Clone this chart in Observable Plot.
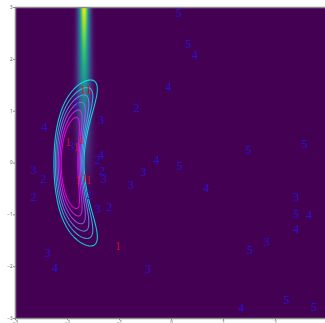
<!DOCTYPE html>
<html>
<head>
<meta charset="utf-8">
<script src="https://cdn.jsdelivr.net/npm/d3@7"></script>
<script src="https://cdn.jsdelivr.net/npm/@observablehq/plot@0.6"></script>
<style>
  html, body { margin: 0; padding: 0; background: #fff; }
  #chart svg { display: block; }
</style>
</head>
<body>
<div id="chart"></div>
<script>
// Axis ticks
const xTicks = [-3, -2, -1, 0, 1, 2, 3];
const yTicks = [-3, -2, -1, 0, 1, 2, 3];

// Digit labels placed in the plane
const digitX = [-1.70, -1.59, -1.99, -1.73, -1.83, -1.80, -1.67, -1.59, -1.03,
  -1.83, -2.44, -1.35, -1.93, -1.35, -1.42, -2.65, -2.46, -1.33, -1.30, -2.65, -1.58,
  -1.42, -1.19, -2.38, -2.24, 0.14, 0.32, 0.45, -0.06, -0.67, -0.29, 0.16, -0.54,
  -0.78, 0.67, -0.45, 1.48, 2.56, 2.40, 2.40, 2.65, 2.40, 1.83, 1.51, 2.21, 1.34, 2.74];
const digitY = [1.41, 1.41, 0.41, 0.45, 0.30, -0.33, -0.29, -0.33, -1.60,
  1.14, 0.70, 0.83, 0.33, 0.16, 0.06, -0.13, -0.32, -0.15, -0.32, -0.65, -0.63,
  -0.90, -0.86, -1.74, -2.03, 2.89, 2.29, 2.09, 1.46, 1.06, 0.06, -0.06, -0.18,
  -0.42, -0.48, -2.04, 0.25, 0.36, -0.65, -0.99, -1.01, -1.28, -1.52, -1.68, -2.65, -2.81, -2.78];
const digitText = ["1", "1", "1", "1", "1", "1", "1", "1", "1",
  "2", "4", "3", "3", "4", "2", "3", "2", "2", "3", "2", "2",
  "3", "2", "3", "4", "5", "5", "4", "4", "2", "4", "5", "3",
  "3", "4", "3", "5", "5", "3", "5", "4", "4", "3", "5", "5", "4", "5"];

// Funnel-shaped background density: a thin column that brightens toward the top
const funnel = {center: -1.68, top: 3, decay: 0.4, cutoff: 0.012, width: 0.068, spread: 0.12};
function funnelDensity(x, y) {
  const d = funnel.top - y;
  const peak = Math.exp(-funnel.decay * d - funnel.cutoff * d ** 4);
  const s = funnel.width * Math.exp(funnel.spread * d);
  const u = (x - funnel.center) / s;
  return peak * Math.exp(-0.5 * u * u);
}

// Bent (banana-shaped) density drawn as contour lines
const banana = {center: -1.95, bend: 0.155, widen: 0.35, sxLeft: 0.145, sxRight: 0.125, sy: 0.746};
const bananaLevels = [0.100, 0.149, 0.212, 0.291, 0.391, 0.498];
function bananaDensity(x, y) {
  const w = 1 + banana.widen * y * y;
  let u = (x - banana.center - banana.bend * y * y) / w;
  u = u < 0 ? u / banana.sxLeft : u / banana.sxRight;
  const v = y / banana.sy;
  return Math.exp(-0.5 * (u * u + v * v));
}

const cool = d3.interpolateRgb("#00ffff", "#ff00ff");
const extent = {x1: -3, x2: 3, y1: -3, y2: 3};
const idx = d3.range(digitText.length);
const fmt = d => (d < 0 ? "\u2212" + (-d) : String(d));

const contours = bananaLevels.map((t, i) => Plot.contour({
  ...extent,
  value: bananaDensity,
  thresholds: [t],
  fill: "none",
  stroke: cool(i / (bananaLevels.length - 1)),
  strokeOpacity: 0.8,
  strokeWidth: 1.1,
  pixelSize: 1
}));

const chart = Plot.plot({
  width: 325,
  height: 323,
  marginLeft: 15,
  marginRight: -2,
  marginTop: 7,
  marginBottom: 5,
  style: {background: "#fff"},
  x: {domain: [-3, 3], axis: null},
  y: {domain: [-3, 3], axis: null},
  color: {type: "linear", scheme: "viridis", domain: [0, 1]},
  marks: [
    Plot.raster({...extent, fill: funnelDensity, pixelSize: 1, imageRendering: "auto"}),
    ...contours,
    Plot.text(idx, {
      filter: i => digitText[i] !== "1",
      x: i => digitX[i], y: i => digitY[i], text: i => digitText[i],
      fill: "#2414e0", fillOpacity: 0.9,
      fontFamily: "Liberation Serif", fontSize: 12
    }),
    Plot.text(idx, {
      filter: i => digitText[i] === "1",
      x: i => digitX[i], y: i => digitY[i], text: i => digitText[i],
      fill: "#dc0f28", fillOpacity: 0.9,
      fontFamily: "Liberation Serif", fontSize: 12
    }),
    Plot.frame({stroke: "#8a8a8a", strokeWidth: 1.5}),
    Plot.axisX({ticks: xTicks, tickFormat: fmt, tickSize: 2, tickPadding: 0, fontSize: 4.5, color: "#555", stroke: "#8a8a8a"}),
    Plot.axisY({ticks: yTicks, tickFormat: fmt, tickSize: 2, tickPadding: 1, fontSize: 4.5, color: "#555", stroke: "#8a8a8a"})
  ]
});

document.getElementById("chart").append(chart);
</script>
</body>
</html>
